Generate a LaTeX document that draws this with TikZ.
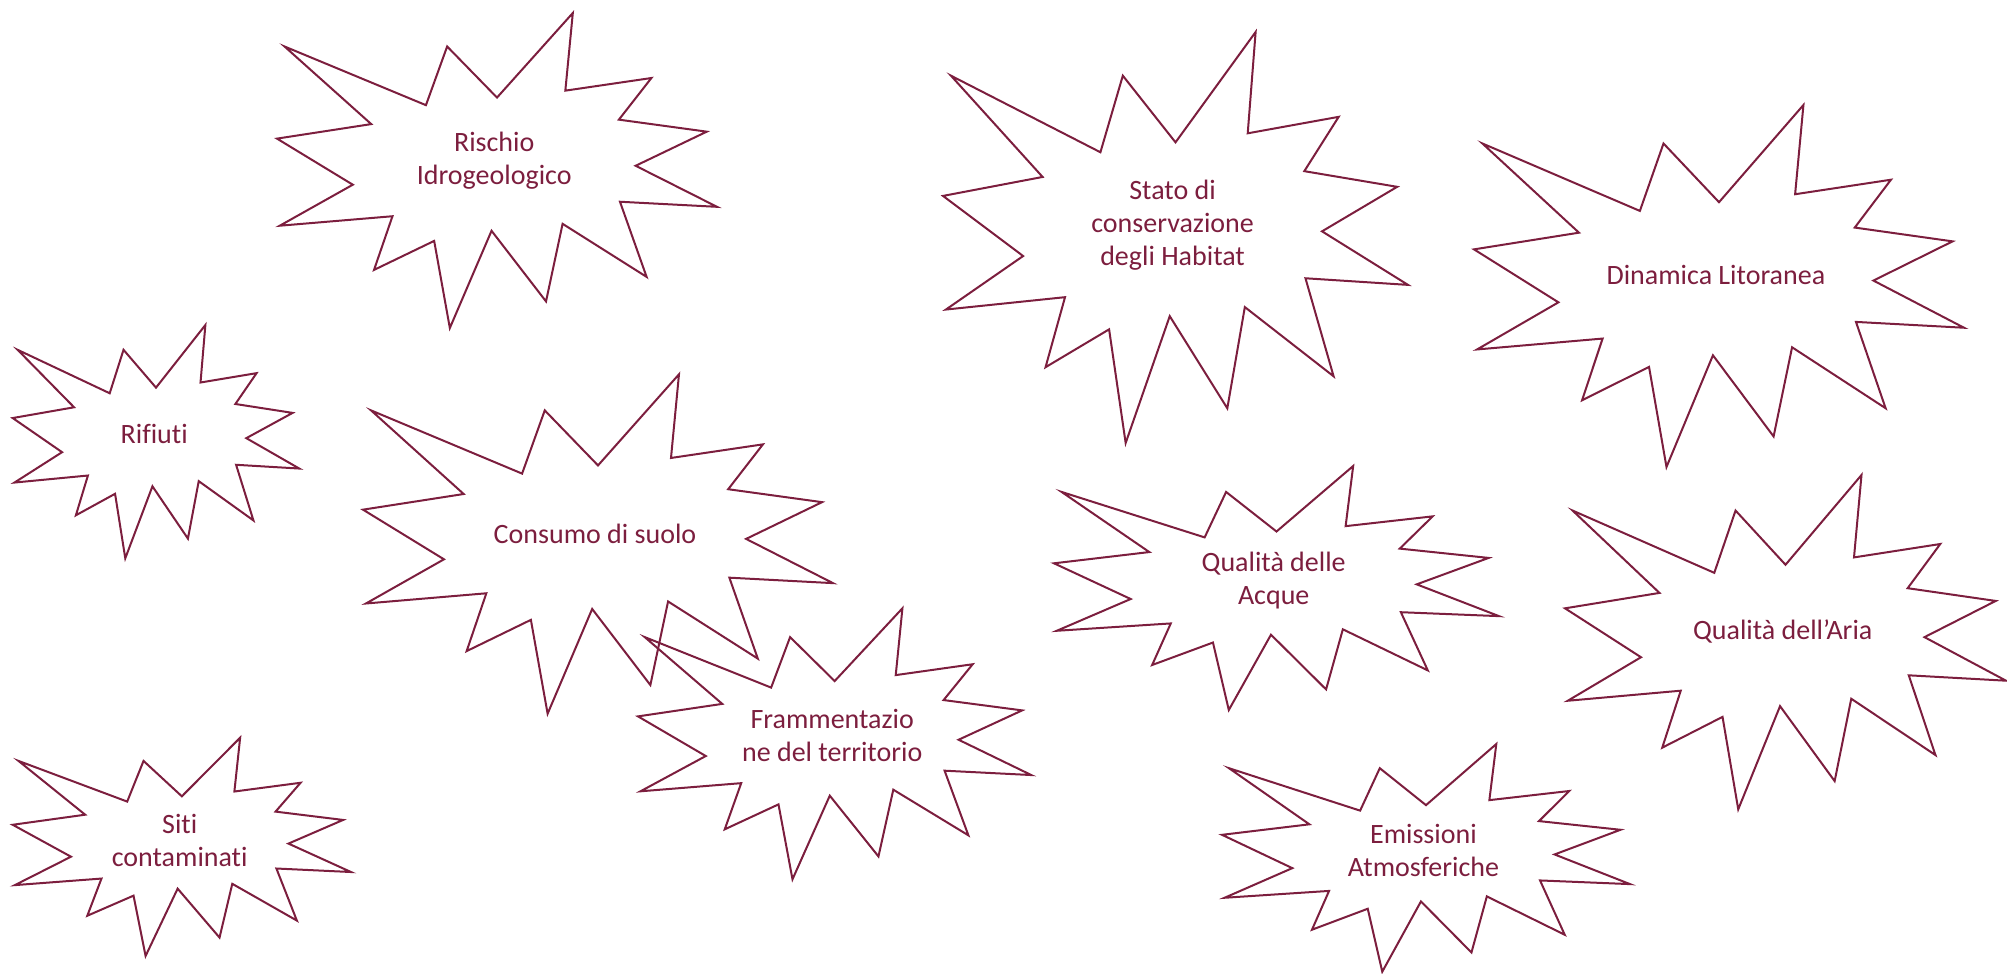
\documentclass[tikz,border=0pt]{standalone}
\usepackage{fontspec}
\setmainfont[Ligatures={NoCommon,NoContextual}]{Carlito}
\definecolor{maroon}{RGB}{124,30,62}
\tikzset{
  sealline/.style={draw=maroon, line width=1pt, line join=miter},
  lbl/.style={text=maroon, align=center, font=\fontsize{14}{16.5}\selectfont, inner sep=0pt}
}
% #1,#2 = top-left (px), #3,#4 = width,height (px), #5 = name, #6 = text
\newcommand\explosion[6]{%
  \pgfmathsetmacro\sw{#3*0.5}%
  \pgfmathsetmacro\sh{#4*0.5}%
  \begin{scope}[shift={(#1,#2)}, x=\sw pt, y=-\sh pt]
    \draw[sealline] (0.5,0.2685) -- (0.6723,0) -- (0.6553,0.2465) -- (0.8509,0.2064)
      -- (0.7770,0.3386) -- (0.9767,0.3767) -- (0.8151,0.4850) -- (1.0,0.6153)
      -- (0.7795,0.5992) -- (0.8400,0.8377) -- (0.6491,0.6693) -- (0.6114,0.9156)
      -- (0.4876,0.6914) -- (0.3928,1.0) -- (0.3572,0.7235) -- (0.2205,0.8156)
      -- (0.2624,0.6452) -- (0.00625,0.6753) -- (0.1723,0.5451) -- (0,0.3988)
      -- (0.2142,0.3527) -- (0.0171,0.1063) -- (0.3385,0.2926) -- (0.3867,0.1063) -- cycle;
    \node[lbl] (#5) at (0.4937,0.4689) {#6};
  \end{scope}%
}
\begin{document}
\begin{tikzpicture}[x=0.5pt, y=-0.5pt]
\useasboundingbox (0,0) rectangle (2007,974);
\explosion{277}{13}{440}{315}{rischio}{Rischio\\Idrogeologico}
\explosion{943}{32}{465}{411}{stato}{Stato di\\conservazione\\degli Habitat}
\explosion{1474}{105}{490}{362}{dinamica}{Dinamica Litoranea}
\explosion{12.7}{325}{286.6}{233.3}{rifiuti}{Rifiuti}
\explosion{363}{374.3}{470}{339.4}{consumo}{Consumo di suolo}
\explosion{638}{608.3}{393.3}{271}{framm}{Frammentazio\\ne del territorio}
\explosion{1054}{466}{445}{244}{acque}{Qualità delle\\Acque}
\explosion{1565}{475}{441}{334.3}{aria}{Qualità dell’Aria}
\explosion{12.7}{737.7}{338.3}{218.3}{siti}{Siti\\contaminati}
\explosion{1222}{744}{408}{227.7}{emissioni}{Emissioni\\Atmosferiche}
\end{tikzpicture}
\end{document}
